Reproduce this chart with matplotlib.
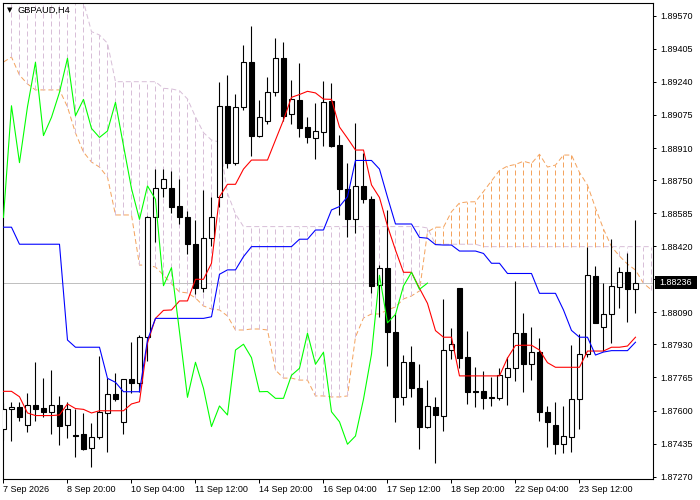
import numpy as np
import matplotlib
matplotlib.use('Agg')
import matplotlib.pyplot as plt
from matplotlib.patches import Rectangle

plt.rcParams['font.family'] = ['Liberation Sans', 'DejaVu Sans']

# GBPAUD H4 candles
opens = [
    1.87507, 1.87606, 1.87619, 1.87527, 1.87629, 1.87613, 1.87594, 1.87626, 1.87527, 1.87478,
    1.87482, 1.87412, 1.87467, 1.87589, 1.87681, 1.87544, 1.87756, 1.87739, 1.87966, 1.88567,
    1.88709, 1.88709, 1.88621, 1.88564, 1.88430, 1.88210, 1.88460, 1.88664, 1.89121, 1.88837,
    1.89116, 1.89338, 1.88972, 1.89045, 1.89188, 1.89358, 1.89080, 1.89150, 1.89013, 1.88959,
    1.88988, 1.89145, 1.88925, 1.88708, 1.88554, 1.88721, 1.88656, 1.88227, 1.88310, 1.87994,
    1.87666, 1.87841, 1.87711, 1.87520, 1.87616, 1.87574, 1.87902, 1.88210, 1.87866, 1.87698,
    1.87698, 1.87668, 1.87664, 1.87766, 1.87811, 1.87986, 1.87831, 1.87891, 1.87591, 1.87528,
    1.87432, 1.87467, 1.87656, 1.87881, 1.88272, 1.88016, 1.88080, 1.88215, 1.88290, 1.88205]
highs = [
    1.87638, 1.87644, 1.87643, 1.87686, 1.87841, 1.87761, 1.87802, 1.87673, 1.87643, 1.87606,
    1.87586, 1.87536, 1.87874, 1.87761, 1.87789, 1.87756, 1.87941, 1.87977, 1.88571, 1.88804,
    1.88804, 1.88797, 1.88754, 1.88596, 1.88551, 1.88701, 1.88664, 1.89241, 1.89274, 1.89180,
    1.89424, 1.89520, 1.89150, 1.89266, 1.89458, 1.89441, 1.89250, 1.89336, 1.89066, 1.89133,
    1.89242, 1.89236, 1.88975, 1.88834, 1.89033, 1.88884, 1.88671, 1.88326, 1.88601, 1.88085,
    1.87877, 1.87922, 1.87831, 1.87753, 1.87669, 1.88157, 1.88011, 1.88210, 1.87999, 1.87816,
    1.87799, 1.87769, 1.87811, 1.87869, 1.88247, 1.88085, 1.88016, 1.87964, 1.87623, 1.87641,
    1.87623, 1.87927, 1.87981, 1.88418, 1.88321, 1.88235, 1.88456, 1.88315, 1.88385, 1.88551]
lows = [
    1.87453, 1.87450, 1.87549, 1.87495, 1.87549, 1.87566, 1.87483, 1.87428, 1.87461, 1.87367,
    1.87403, 1.87320, 1.87457, 1.87395, 1.87649, 1.87483, 1.87689, 1.87694, 1.87849, 1.88443,
    1.88664, 1.88587, 1.88531, 1.88380, 1.88182, 1.88193, 1.88423, 1.88617, 1.88812, 1.88825,
    1.89100, 1.88870, 1.88967, 1.89028, 1.89171, 1.89045, 1.89028, 1.88967, 1.88934, 1.88854,
    1.88922, 1.88915, 1.88576, 1.88465, 1.88485, 1.88634, 1.88188, 1.88068, 1.87822, 1.87544,
    1.87628, 1.87669, 1.87407, 1.87515, 1.87337, 1.87500, 1.87856, 1.87811, 1.87633, 1.87616,
    1.87606, 1.87624, 1.87653, 1.87628, 1.87749, 1.87694, 1.87753, 1.87549, 1.87420, 1.87383,
    1.87387, 1.87395, 1.87507, 1.87869, 1.88038, 1.87899, 1.87939, 1.88110, 1.88043, 1.88085]
closes = [
    1.87606, 1.87616, 1.87569, 1.87629, 1.87609, 1.87594, 1.87626, 1.87525, 1.87606, 1.87472,
    1.87410, 1.87467, 1.87594, 1.87681, 1.87656, 1.87756, 1.87739, 1.87966, 1.88564, 1.88709,
    1.88754, 1.88617, 1.88564, 1.88430, 1.88210, 1.88460, 1.88564, 1.89121, 1.88837, 1.89116,
    1.89338, 1.88972, 1.89063, 1.89188, 1.89358, 1.89071, 1.89153, 1.89008, 1.88963, 1.88995,
    1.89138, 1.88922, 1.88708, 1.88554, 1.88721, 1.88654, 1.88223, 1.88313, 1.87994, 1.87666,
    1.87841, 1.87711, 1.87520, 1.87623, 1.87578, 1.87902, 1.87931, 1.87864, 1.87694, 1.87695,
    1.87661, 1.87661, 1.87776, 1.87811, 1.87986, 1.87831, 1.87891, 1.87594, 1.87544, 1.87432,
    1.87473, 1.87656, 1.87881, 1.88275, 1.88038, 1.88080, 1.88222, 1.88290, 1.88205, 1.88236]

# Ichimoku lines
tenkan = [
    1.87696, 1.87696, 1.87669, 1.87588, 1.87575, 1.87575, 1.87575, 1.87578, 1.87633, 1.87610,
    1.87606, 1.87588, 1.87599, 1.87599, 1.87599, 1.87599, 1.87633, 1.87644, 1.87937, 1.88060,
    1.88100, 1.88102, 1.88147, 1.88147, 1.88255, 1.88255, 1.88335, 1.88667, 1.88729, 1.88729,
    1.88805, 1.88850, 1.88850, 1.88850, 1.88950, 1.89050, 1.89163, 1.89177, 1.89193, 1.89185,
    1.89154, 1.89153, 1.89015, 1.88959, 1.88900, 1.88900, 1.88726, 1.88663, 1.88521, 1.88401,
    1.88290, 1.88290, 1.88210, 1.88135, 1.87999, 1.87966, 1.87966, 1.87773, 1.87773, 1.87773,
    1.87773, 1.87773, 1.87773, 1.87862, 1.87925, 1.87926, 1.87926, 1.87902, 1.87839, 1.87816,
    1.87816, 1.87816, 1.87816, 1.87897, 1.87897, 1.87897, 1.87916, 1.87916, 1.87922, 1.87966]
kijun = [
    1.88515, 1.88515, 1.88430, 1.88430, 1.88430, 1.88430, 1.88430, 1.88430, 1.87952, 1.87916,
    1.87916, 1.87916, 1.87916, 1.87761, 1.87741, 1.87694, 1.87694, 1.87694, 1.87952, 1.88060,
    1.88060, 1.88060, 1.88060, 1.88060, 1.88060, 1.88060, 1.88068, 1.88280, 1.88302, 1.88302,
    1.88368, 1.88418, 1.88418, 1.88418, 1.88418, 1.88418, 1.88418, 1.88455, 1.88455, 1.88501,
    1.88501, 1.88601, 1.88618, 1.88667, 1.88848, 1.88848, 1.88848, 1.88805, 1.88665, 1.88531,
    1.88531, 1.88531, 1.88464, 1.88460, 1.88428, 1.88426, 1.88426, 1.88396, 1.88396, 1.88396,
    1.88384, 1.88335, 1.88335, 1.88284, 1.88284, 1.88284, 1.88284, 1.88185, 1.88185, 1.88185,
    1.88102, 1.88000, 1.87966, 1.87966, 1.87877, 1.87892, 1.87899, 1.87899, 1.87899, 1.87941]
span_a = [
    1.89339, 1.89364, 1.89274, 1.89230, 1.89200, 1.89200, 1.89200, 1.89200, 1.89115, 1.88985,
    1.88890, 1.88840, 1.88815, 1.88765, 1.88576, 1.88576, 1.88576, 1.88326, 1.88326, 1.88316,
    1.88276, 1.88232, 1.88192, 1.88187, 1.88162, 1.88122, 1.88107, 1.88102, 1.88072, 1.88002,
    1.88002, 1.88007, 1.88007, 1.88002, 1.87802, 1.87762, 1.87762, 1.87752, 1.87752, 1.87673,
    1.87673, 1.87668, 1.87668, 1.87673, 1.87967, 1.88062, 1.88082, 1.88082, 1.88102, 1.88117,
    1.88157, 1.88172, 1.88197, 1.88491, 1.88515, 1.88515, 1.88592, 1.88636, 1.88641, 1.88642,
    1.88693, 1.88746, 1.88798, 1.88820, 1.88828, 1.88844, 1.88833, 1.88879, 1.88815, 1.88825,
    1.88875, 1.88875, 1.88788, 1.88725, 1.88611, 1.88506, 1.88418, 1.88371, 1.88331, 1.88301,
    1.88235, 1.88202]
span_b = [
    1.89700, 1.89700, 1.89700, 1.89700, 1.89700, 1.89700, 1.89700, 1.89700, 1.89700, 1.89700,
    1.89639, 1.89491, 1.89474, 1.89433, 1.89241, 1.89241, 1.89241, 1.89241, 1.89241, 1.89241,
    1.89208, 1.89205, 1.89196, 1.89155, 1.89065, 1.88987, 1.88950, 1.88940, 1.88684, 1.88581,
    1.88518, 1.88518, 1.88518, 1.88518, 1.88518, 1.88518, 1.88518, 1.88518, 1.88518, 1.88518,
    1.88518, 1.88518, 1.88518, 1.88518, 1.88518, 1.88518, 1.88518, 1.88518, 1.88518, 1.88518,
    1.88518, 1.88518, 1.88518, 1.88511, 1.88430, 1.88430, 1.88430, 1.88430, 1.88430, 1.88430,
    1.88418, 1.88418, 1.88418, 1.88418, 1.88418, 1.88418, 1.88418, 1.88418, 1.88418, 1.88418,
    1.88418, 1.88418, 1.88418, 1.88418, 1.88418, 1.88418, 1.88418, 1.88418, 1.88418, 1.88418,
    1.88418, 1.88418]
chikou_shift = 26
bid = 1.88236

date_ticks = [0, 8, 16, 24, 32, 40, 48, 56, 64, 72]
date_labels = ['7 Sep 2026', '8 Sep 20:00', '10 Sep 04:00', '11 Sep 12:00', '14 Sep 20:00',
               '16 Sep 04:00', '17 Sep 12:00', '18 Sep 20:00', '22 Sep 04:00', '23 Sep 12:00']
price_ticks = [1.89570, 1.89405, 1.89240, 1.89075, 1.88910, 1.88750, 1.88585, 1.88420,
               1.88255, 1.88090, 1.87930, 1.87765, 1.87600, 1.87435, 1.87270]

W, H = 700, 500
fig = plt.figure(figsize=(7, 5), dpi=100)
ax = fig.add_axes([3 / W, 21 / H, 650 / W, 476 / H])

px = 0.72  # one pixel in points
dash = (0, (5, 3))

# cloud
xc = np.arange(len(span_a))
ax.plot(xc, span_b, color='#D8BFD8', lw=px, ls=dash, zorder=1)
ax.plot(xc, span_a, color='#F4A460', lw=px, ls=dash, zorder=1)
for i in xc:
    a, b = span_a[i], span_b[i]
    col = '#F4A460' if a >= b else '#D8BFD8'
    ax.vlines(i, min(a, b), max(a, b), colors=col, lw=px, linestyles=[dash], zorder=1)

ax.axhline(bid, color='#C0C0C0', lw=px, zorder=2)

# candles
for i in range(len(closes)):
    o, h, l, c = opens[i], highs[i], lows[i], closes[i]
    ax.vlines(i, l, h, colors='black', lw=px * 1.1, zorder=3)
    face = 'white' if c >= o else 'black'
    ax.add_patch(Rectangle((i - 0.26, min(o, c)), 0.52, abs(c - o), facecolor=face,
                           edgecolor='black', lw=px * 1.1, zorder=4))

# lines
xb = np.arange(len(closes))
ax.plot(xb, tenkan, color='#FF0000', lw=px * 1.1, zorder=5)
ax.plot(xb, kijun, color='#0000FF', lw=px * 1.1, zorder=5)
ax.plot(xb[chikou_shift:] - chikou_shift, closes[chikou_shift:], color='#00FF00', lw=px * 1.1, zorder=5)

ax.set_xlim(-0.06, 81.19)
ax.set_ylim(1.872585, 1.896337)

ax.yaxis.tick_right()
ax.set_yticks(price_ticks)
ax.set_yticklabels(['%.5f' % t for t in price_ticks])
ax.tick_params(axis='y', direction='out', length=2.5, width=px, pad=2.5, labelsize=6.5)
ax.set_xticks(date_ticks)
ax.set_xticklabels(date_labels)
for lbl in ax.get_xticklabels():
    lbl.set_horizontalalignment('left')
ax.tick_params(axis='x', direction='out', length=3, width=px, pad=1.5, labelsize=6.5)
for s in ax.spines.values():
    s.set_linewidth(px * 1.1)
    s.set_color('black')

# header and current price box
fig.text(9.5 / W, 1 - 10 / H, '\u25bc', family='DejaVu Sans', fontsize=5, ha='center', va='center')
fig.text(18 / W, 1 - 10.5 / H, 'GBPAUD,H4', fontsize=6.7, va='center')
fig.add_artist(Rectangle((655 / W, 1 - 289 / H), 42 / W, 13 / H, transform=fig.transFigure,
                         facecolor='black', edgecolor='none', zorder=5))
fig.text(659 / W, 1 - 282.5 / H, '%.5f' % bid, color='white', fontsize=6.5, va='center', zorder=6)

plt.savefig('out.png', dpi=100)
